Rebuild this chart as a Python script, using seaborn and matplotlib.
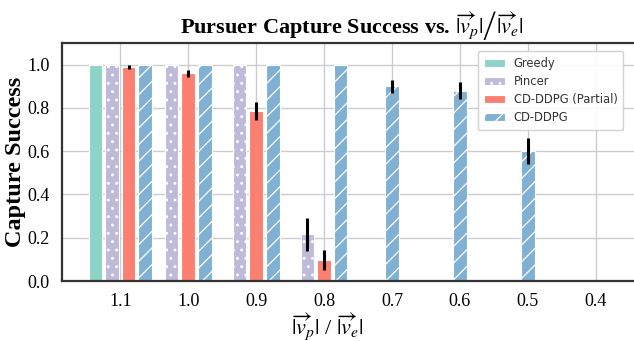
import numpy as np
import matplotlib
matplotlib.use("Agg")
import matplotlib.pyplot as plt
import seaborn as sns

# --------------------------------------------------
# Data
# --------------------------------------------------
speed_ratio = ["1.1", "1.0", "0.9", "0.8", "0.7", "0.6", "0.5", "0.4"]
methods = ["Greedy", "Pincer", "CD-DDPG (Partial)", "CD-DDPG"]

nan = np.nan
greedy = [1.0, nan, nan, nan, nan, nan, nan, nan]
pincer = [1.0, 1.0, 1.0, 0.215, nan, nan, nan, nan]
cd_partial = [0.99, 0.96, 0.785, 0.097, nan, nan, nan, nan]
cd_ddpg = [1.0, 1.0, 1.0, 1.0, 0.90, 0.88, 0.60, nan]

greedy_err = [0, nan, nan, nan, nan, nan, nan, nan]
pincer_err = [0, 0, 0, 0.075, nan, nan, nan, nan]
cd_partial_err = [0.01, 0.015, 0.04, 0.045, nan, nan, nan, nan]
cd_ddpg_err = [0, 0, 0, 0, 0.03, 0.04, 0.06, nan]

values = [greedy, pincer, cd_partial, cd_ddpg]
errors = [greedy_err, pincer_err, cd_partial_err, cd_ddpg_err]
hatches = ["", "..", "", "//"]

# --------------------------------------------------
# Style
# --------------------------------------------------
sns.set_theme(style="whitegrid")
plt.rcParams["font.family"] = ["Liberation Serif", "DejaVu Serif"]
plt.rcParams["mathtext.fontset"] = "stix"
plt.rcParams["hatch.linewidth"] = 0.9
plt.rcParams["text.color"] = "black"
plt.rcParams["axes.labelcolor"] = "black"
plt.rcParams["xtick.color"] = "black"
plt.rcParams["ytick.color"] = "black"

pal = sns.color_palette("Set3", 5)
colors = [pal[0], pal[2], pal[3], pal[4]]

fig = plt.figure(figsize=(6.34, 3.41), dpi=100)
ax = fig.add_axes([62 / 634, 60 / 341, 592 / 634, 238 / 341])

slot = 0.244
width = 0.20
drawn = set()
for i, cat in enumerate(speed_ratio):
    present = [m for m in range(len(methods)) if not np.isnan(values[m][i])]
    n = len(present)
    for k, m in enumerate(present):
        xpos = i + (k - (n - 1) / 2) * slot
        label = methods[m] if m not in drawn else None
        drawn.add(m)
        ax.bar(xpos, values[m][i], width=width, color=colors[m],
               edgecolor="white", linewidth=0.8, hatch=hatches[m],
               label=label, zorder=2)
        if errors[m][i] > 0:
            ax.errorbar(xpos, values[m][i], yerr=errors[m][i],
                        fmt="none", ecolor="black", elinewidth=2.2,
                        capsize=0, zorder=3)

ax.set_xticks(range(len(speed_ratio)))
ax.set_xticklabels(speed_ratio)
ax.set_xlim(-0.86, 7.86)
ax.set_ylim(0, 1.1)
ax.set_yticks([0, 0.2, 0.4, 0.6, 0.8, 1.0])
ax.tick_params(labelsize=13, pad=3)
ax.grid(True, color="#cccccc", linewidth=1.0)
ax.set_axisbelow(True)
for sp in ax.spines.values():
    sp.set_color("#333333")
    sp.set_linewidth(1.6)

ax.set_ylabel("Capture Success", fontsize=17.5, fontweight="bold")
ax.yaxis.set_label_coords(-0.06, 0.5)
ax.set_xlabel(r"$|\overrightarrow{v}_p|$ / $|\overrightarrow{v}_e|$",
              fontsize=16, va="top")
ax.xaxis.set_label_coords(0.449, -0.128)
ax.set_title(r"Pursuer Capture Success vs. $\left.|\overrightarrow{v}_p|\right/|\overrightarrow{v}_e|$",
             fontsize=16, fontweight="bold", pad=7, x=0.49)

# legend handles in method order
handles, labels = ax.get_legend_handles_labels()
order = [labels.index(m) for m in methods]
leg = ax.legend([handles[j] for j in order], [labels[j] for j in order],
                loc="upper right", bbox_to_anchor=(0.958, 0.99),
                prop={"family": "DejaVu Sans", "size": 8.3},
                frameon=True, framealpha=0.9, edgecolor="#cccccc",
                handlelength=1.8, borderpad=0.5, labelspacing=0.45)
for t in leg.get_texts():
    t.set_color("#333333")

fig.savefig("out.png", dpi=100)
